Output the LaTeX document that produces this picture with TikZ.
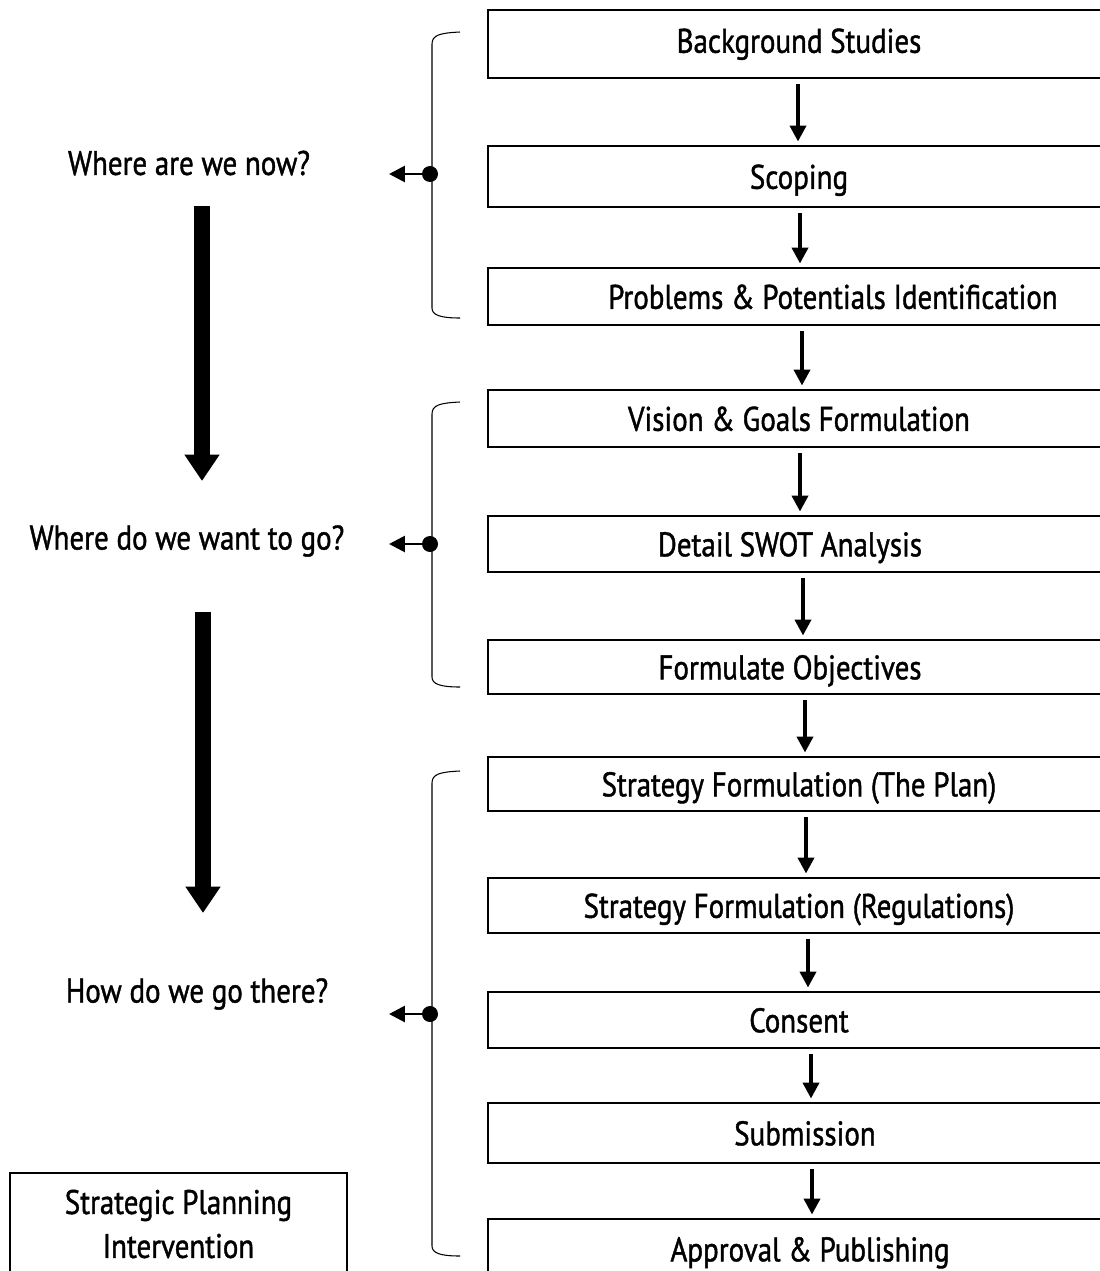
\documentclass[tikz,border=0pt]{standalone}
\usepackage{fontspec}
\setmainfont{PT Sans}[FakeStretch=0.85, FakeBold=1.2]
\usetikzlibrary{arrows.meta}
\usetikzlibrary{positioning}

\begin{document}
\begin{tikzpicture}
  [
    x=0.02cm, y=-0.02cm,
    every node/.style={font=\fontsize{19.4}{22}\selectfont},
    stage/.style  = {draw, rectangle, line width=1.1pt, minimum width=12.44cm, inner sep=0pt, text height=15pt, text depth=1pt},
    flow/.style   = {line width=2.2pt, -{Triangle[width=9pt,length=9pt]}, shorten <=3pt, shorten >=2pt},
    bigarrow/.style = {line width=9pt, -{Triangle[width=19pt,length=15pt]}},
    brace/.style  = {line width=0.6pt},
    point/.style  = {circle, fill=black, inner sep=0pt, minimum size=0.32cm},
    pointer/.style = {line width=1.6pt, -{Triangle[width=9pt,length=9pt]}},
    question/.style = {inner sep=0pt},
  ]

  \useasboundingbox (0,0) rectangle (1099,1271);

  % the stages
  \def\cx{799}
  \node (b1)  at (\cx,44)     [stage, minimum height=1.36cm] {\raisebox{2pt}{Background Studies}};
  \node (b2)  at (\cx,176.5)  [stage, minimum height=1.22cm] {Scoping};
  \node (b3)  at (\cx,296.5)  [stage, minimum height=1.14cm] {\hspace*{1.36cm}Problems \& Potentials Identification};
  \node (b4)  at (\cx,418.5)  [stage, minimum height=1.14cm] {Vision \& Goals Formulation};
  \node (b5)  at (\cx,544)    [stage, minimum height=1.12cm] {\hspace*{-0.36cm}Detail SWOT Analysis};
  \node (b6)  at (\cx,667)    [stage, minimum height=1.08cm] {\hspace*{-0.36cm}Formulate Objectives};
  \node (b7)  at (\cx,784)    [stage, minimum height=1.08cm] {Strategy Formulation (The Plan)};
  \node (b8)  at (\cx,905.5)  [stage, minimum height=1.10cm] {Strategy Formulation (Regulations)};
  \node (b9)  at (\cx,1020)   [stage, minimum height=1.12cm] {Consent};
  \node (b10) at (\cx,1133)   [stage, minimum height=1.20cm] {\hspace*{0.24cm}Submission};
  \node (b11) at (\cx,1249)   [stage, minimum height=1.20cm] {\hspace*{0.44cm}Approval \& Publishing};

  % arrows between stages
  \foreach \a/\b/\dx in {b1/b2/-1, b2/b3/1, b3/b4/3, b4/b5/1, b5/b6/4, b6/b7/6, b7/b8/7, b8/b9/9, b9/b10/12, b10/b11/13}
    \draw[flow] ([xshift=\dx*0.02cm]\a.south) -- ([xshift=\dx*0.02cm]\b.north);

  % the brackets
  \foreach \top/\bot/\mid/\n in {32/318/174/1, 402/687/544/2, 771/1256/1014/3}
  {
    \draw[brace] (460,\top) .. controls (440,\top+1) and (432,\top+3) .. (432,\top+12)
      -- (432,\bot-10) .. controls (432,\bot-3) and (440,\bot) .. (460,\bot);
    \node (d\n) at (430,\mid) [point] {};
    \draw[pointer] (d\n.center) -- (389,\mid);
  }

  % the questions
  \node (q1) at (189,163) [question] {Where are we now?};
  \node (q2) at (187,541) [question] {Where do we want to go?};
  \node (q3) at (197,994) [question] {How do we go there?};

  \coordinate (s1) at (202,206);
  \coordinate (e1) at (202,481);
  \coordinate (s2) at (203,612);
  \coordinate (e2) at (203,913);
  \draw[bigarrow] (s1) -- (e1);
  \draw[bigarrow] (s2) -- (e2);

  \node (spi) at (178.5,1224) [draw, line width=0.9pt, minimum width=6.74cm, minimum height=2.04cm, align=center]
    {Strategic Planning\\[3pt]Intervention};

\end{tikzpicture}
\end{document}
